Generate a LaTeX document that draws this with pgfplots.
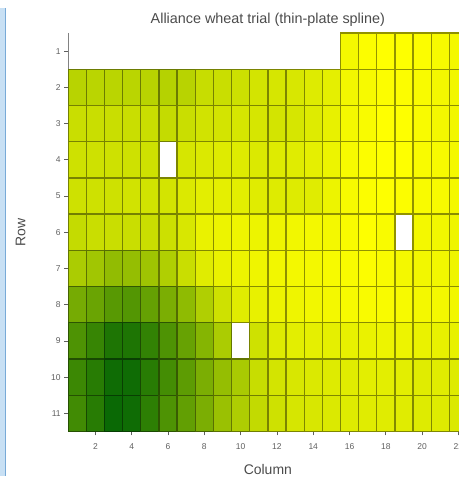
\documentclass[border=0pt]{standalone}
\usepackage{pgfplots}
\usepackage{pgfplotstable}
\pgfplotsset{compat=1.18}
\usepackage{fontspec}
\setmainfont{Liberation Sans}

\definecolor{txtgray}{RGB}{75,75,75}
\definecolor{tickgray}{RGB}{95,95,95}
\definecolor{framegray}{RGB}{130,130,130}
\definecolor{stripfill}{RGB}{200,224,244}
\definecolor{stripedge}{RGB}{120,170,215}

% fitted surface per plot: column, row, relative yield (0 = lowest, 1 = highest)
\pgfplotstableread[row sep=\\]{
col row val\\
16 1 .95\\ 17 1 .98\\ 18 1 1.0\\ 19 1 .99\\ 20 1 .98\\ 21 1 .96\\ 22 1 .95\\
1 2 .71\\ 2 2 .72\\ 3 2 .72\\ 4 2 .72\\ 5 2 .71\\ 6 2 .70\\ 7 2 .71\\ 8 2 .77\\ 9 2 .78\\ 10 2 .79\\ 11 2 .82\\ 12 2 .83\\ 13 2 .84\\ 14 2 .86\\ 15 2 .89\\ 16 2 .94\\ 17 2 .96\\ 18 2 .98\\ 19 2 .98\\ 20 2 .97\\ 21 2 .95\\ 22 2 .94\\
1 3 .78\\ 2 3 .78\\ 3 3 .78\\ 4 3 .78\\ 5 3 .78\\ 6 3 .76\\ 7 3 .78\\ 8 3 .81\\ 9 3 .82\\ 10 3 .83\\ 11 3 .83\\ 12 3 .82\\ 13 3 .83\\ 14 3 .86\\ 15 3 .90\\ 16 3 .95\\ 17 3 .97\\ 18 3 1.0\\ 19 3 .99\\ 20 3 .97\\ 21 3 .95\\ 22 3 .94\\
1 4 .80\\ 2 4 .80\\ 3 4 .80\\ 4 4 .80\\ 5 4 .80\\ 7 4 .83\\ 8 4 .85\\ 9 4 .86\\ 10 4 .86\\ 11 4 .85\\ 12 4 .86\\ 13 4 .87\\ 14 4 .89\\ 15 4 .92\\ 16 4 .96\\ 17 4 .98\\ 18 4 .99\\ 19 4 .99\\ 20 4 .97\\ 21 4 .96\\ 22 4 .95\\
1 5 .80\\ 2 5 .80\\ 3 5 .80\\ 4 5 .81\\ 5 5 .81\\ 6 5 .82\\ 7 5 .85\\ 8 5 .88\\ 9 5 .89\\ 10 5 .88\\ 11 5 .87\\ 12 5 .86\\ 13 5 .86\\ 14 5 .87\\ 15 5 .92\\ 16 5 .96\\ 17 5 .98\\ 18 5 .99\\ 19 5 .98\\ 20 5 .97\\ 21 5 .96\\ 22 5 .95\\
1 6 .76\\ 2 6 .78\\ 3 6 .78\\ 4 6 .78\\ 5 6 .78\\ 6 6 .79\\ 7 6 .84\\ 8 6 .91\\ 9 6 .92\\ 10 6 .93\\ 11 6 .92\\ 12 6 .93\\ 13 6 .94\\ 14 6 .95\\ 15 6 .95\\ 16 6 .97\\ 17 6 .99\\ 18 6 .97\\ 20 6 .95\\ 21 6 .94\\ 22 6 .93\\
1 7 .66\\ 2 7 .62\\ 3 7 .56\\ 4 7 .57\\ 5 7 .61\\ 6 7 .68\\ 7 7 .78\\ 8 7 .87\\ 9 7 .91\\ 10 7 .92\\ 11 7 .93\\ 12 7 .94\\ 13 7 .95\\ 14 7 .95\\ 15 7 .96\\ 16 7 .97\\ 17 7 .98\\ 18 7 .97\\ 19 7 .95\\ 20 7 .94\\ 21 7 .94\\ 22 7 .93\\
1 8 .45\\ 2 8 .40\\ 3 8 .33\\ 4 8 .31\\ 5 8 .38\\ 6 8 .47\\ 7 8 .55\\ 8 8 .68\\ 9 8 .80\\ 10 8 .87\\ 11 8 .90\\ 12 8 .92\\ 13 8 .93\\ 14 8 .94\\ 15 8 .95\\ 16 8 .96\\ 17 8 .97\\ 18 8 .97\\ 19 8 .96\\ 20 8 .95\\ 21 8 .95\\ 22 8 .94\\
1 9 .29\\ 2 9 .20\\ 3 9 .10\\ 4 9 .10\\ 5 9 .18\\ 6 9 .29\\ 7 9 .39\\ 8 9 .51\\ 9 9 .66\\ 11 9 .80\\ 12 9 .86\\ 13 9 .88\\ 14 9 .89\\ 15 9 .89\\ 16 9 .90\\ 17 9 .91\\ 18 9 .92\\ 19 9 .92\\ 20 9 .91\\ 21 9 .90\\ 22 9 .90\\
1 10 .22\\ 2 10 .14\\ 3 10 .04\\ 4 10 .04\\ 5 10 .14\\ 6 10 .25\\ 7 10 .35\\ 8 10 .47\\ 9 10 .57\\ 10 10 .65\\ 11 10 .77\\ 12 10 .82\\ 13 10 .84\\ 14 10 .85\\ 15 10 .86\\ 16 10 .87\\ 17 10 .88\\ 18 10 .88\\ 19 10 .88\\ 20 10 .87\\ 21 10 .87\\ 22 10 .86\\
1 11 .24\\ 2 11 .14\\ 3 11 .02\\ 4 11 .04\\ 5 11 .16\\ 6 11 .29\\ 7 11 .37\\ 8 11 .47\\ 9 11 .59\\ 10 11 .67\\ 11 11 .75\\ 12 11 .80\\ 13 11 .83\\ 14 11 .84\\ 15 11 .85\\ 16 11 .86\\ 17 11 .87\\ 18 11 .87\\ 19 11 .87\\ 20 11 .86\\ 21 11 .86\\ 22 11 .85\\
}\cells

\begin{document}
\begin{tikzpicture}[x=1pt,y=1pt]
% overall frame of the figure
\path (0,0) rectangle (459,-477);
% window edge on the left
\fill[stripfill] (0,-8) rectangle (5,-477);
\draw[stripedge, line width=1.2pt] (5.6,-8) -- (5.6,-477);
\begin{pgfinterruptboundingbox}
\begin{axis}[
  at={(68.3pt,-33pt)}, anchor=north west,
  scale only axis, width=390.7pt, height=399pt,
  xmin=0.5, xmax=22.0, ymin=0.5, ymax=11.5, y dir=reverse,
  axis on top,
  axis lines*=left,
  axis line style={framegray, line width=0.9pt, -},
  tick align=outside,
  major tick length=4pt,
  tick style={tickgray, line width=0.7pt},
  xtick={2,4,...,22}, ytick={1,...,11},
  /pgf/number format/assume math mode=true,
  ticklabel style={font=\fontsize{8.5}{10}\selectfont, text=tickgray},
  xticklabel style={yshift=-5pt},
  colormap={greenyellow}{rgb255(0)=(5,102,5) rgb255(1)=(255,255,0)},
  point meta min=0, point meta max=1,
  title={Alliance wheat trial (thin-plate spline)},
  title style={at={(axis description cs:0.5116,1.0075)}, anchor=base,
    font=\fontsize{14.4}{16}\selectfont, text=txtgray},
  xlabel={Column},
  xlabel style={at={(axis description cs:0.5116,-0.1078)}, anchor=base,
    font=\fontsize{14}{16}\selectfont, text=txtgray},
  ylabel={Row},
  ylabel style={at={(axis description cs:-0.1100,0.5)}, anchor=base,
    font=\fontsize{14}{16}\selectfont, text=txtgray},
]
\addplot[scatter, only marks, mark=square*, mark size=9.085pt,
  mark options={yscale=1.9962, line width=1.3pt},
  scatter/use mapped color={draw=mapped color!58!black, fill=mapped color},
  point meta=explicit]
  table[x=col, y=row, meta=val] {\cells};
% top edge of the frame
\draw[framegray, line width=0.9pt] (rel axis cs:0,0) -- (rel axis cs:1,0);
\end{axis}
\end{pgfinterruptboundingbox}
\end{tikzpicture}
\end{document}
